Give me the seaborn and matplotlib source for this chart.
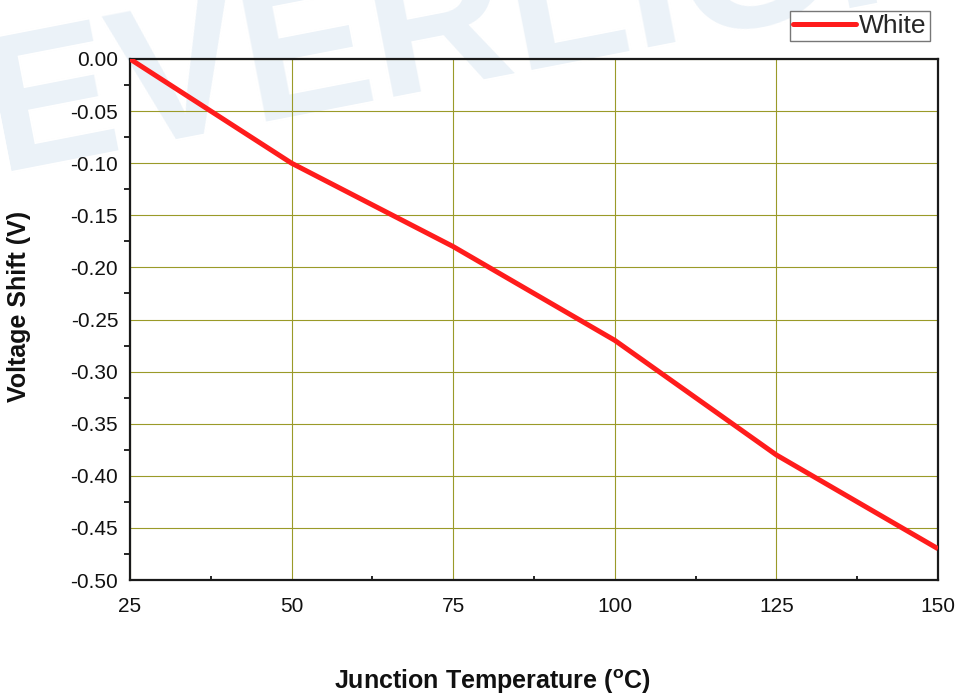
import matplotlib
matplotlib.use("Agg")
import matplotlib.pyplot as plt
import seaborn as sns
import pandas as pd
from matplotlib.ticker import MultipleLocator

# Forward-voltage shift versus junction temperature
temperature = [25, 50, 75, 100, 125, 150]
voltage_shift = [0.00, -0.10, -0.18, -0.27, -0.38, -0.47]
series_name = "White"

x_ticks = [25, 50, 75, 100, 125, 150]
y_ticks = [0.00, -0.05, -0.10, -0.15, -0.20, -0.25, -0.30, -0.35, -0.40, -0.45, -0.50]

df = pd.DataFrame({"Temperature": temperature, "Shift": voltage_shift, "Series": series_name})

sns.set_theme(style="white")
plt.rcParams["font.family"] = ["Liberation Sans", "DejaVu Sans"]
plt.rcParams["mathtext.fontset"] = "custom"
plt.rcParams["mathtext.rm"] = "Liberation Sans"
plt.rcParams["mathtext.bf"] = "Liberation Sans:bold"

fig = plt.figure(figsize=(9.59, 6.95), dpi=100)
ax = fig.add_axes([130 / 959, 1 - 580 / 695, 808 / 959, 521 / 695])

# faint company watermark behind the plot
fig.text(-0.03, 1 - 170 / 695, "EVERLIGHT", fontsize=140, fontweight="bold", color="#ebf2f8",
         rotation=11, ha="left", va="baseline", zorder=-10)
ax.set_facecolor("none")

sns.lineplot(data=df, x="Temperature", y="Shift", hue="Series", palette=["#ff1c1c"],
             linewidth=3.6, ax=ax, zorder=3, solid_capstyle="butt")

ax.set_xlim(25, 150)
ax.set_ylim(-0.50, 0.0)
ax.set_xticks(x_ticks)
ax.set_yticks(y_ticks)
ax.set_xticklabels([str(t) for t in x_ticks])
ax.set_yticklabels([f"{v:.2f}" for v in y_ticks])
ax.xaxis.set_minor_locator(MultipleLocator(12.5))
ax.yaxis.set_minor_locator(MultipleLocator(0.025))

ax.grid(True, which="major", color="#9a9a28", linewidth=0.8)
ax.set_axisbelow(True)

ax.tick_params(axis="both", which="major", direction="in", length=7, width=1.3,
               color="black", labelsize=15, labelcolor="#111111")
ax.tick_params(axis="y", which="major", pad=8.5)
ax.tick_params(axis="x", which="major", pad=12)
ax.tick_params(axis="y", which="minor", direction="out", length=4, width=1.2, color="black", left=True)
ax.tick_params(axis="x", which="minor", direction="in", length=3, width=1.2, color="black", bottom=True)

for s in ax.spines.values():
    s.set_visible(True)
    s.set_color("#1a1a1a")
    s.set_linewidth(1.6)

ax.set_xlabel(r"Junction Temperature ($^{\mathbf{o}}$C)", fontsize=18, fontweight="bold",
              color="#111111", va="top")
ax.xaxis.set_label_coords(0.448, -0.168)
ax.set_ylabel("Voltage Shift (V)", fontsize=18, fontweight="bold", color="#111111")
ax.yaxis.set_label_coords(-0.123, 0.526)

handles, labels = ax.get_legend_handles_labels()
leg = ax.legend(handles, labels, loc="upper right", bbox_to_anchor=(930 / 959, 1 - 11 / 695),
                bbox_transform=fig.transFigure, borderaxespad=0, fontsize=19,
                handlelength=2.4, handletextpad=0.12, borderpad=0.12,
                frameon=True, fancybox=False, edgecolor="#777777", framealpha=1)
leg.get_frame().set_linewidth(1.0)
for ln in leg.get_lines():
    ln.set_linewidth(3.6)
    ln.set_solid_capstyle("round")

fig.savefig("out.png", dpi=100)
